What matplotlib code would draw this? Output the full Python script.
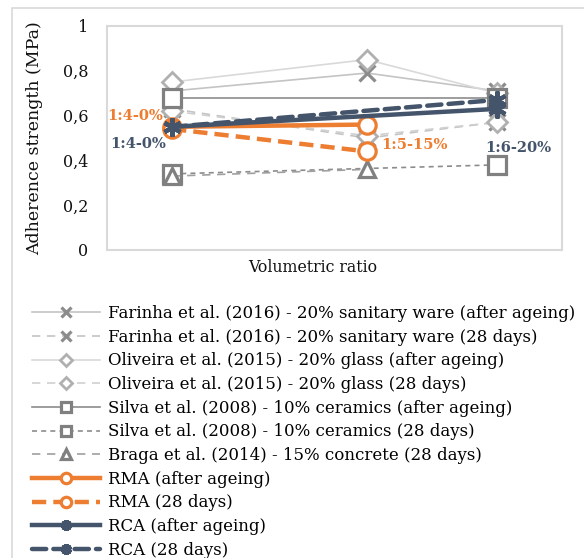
import numpy as np
import matplotlib
matplotlib.use("Agg")
import matplotlib.pyplot as plt
from matplotlib.patches import Rectangle
from matplotlib.ticker import FuncFormatter

plt.rcParams['font.family'] = ['DejaVu Serif']

# volumetric ratio 1:4, 1:5, 1:6 -> plotted as 1/n
ratios = [4, 5, 6]
nan = np.nan

farinha_aged = [0.71, 0.79, 0.71]
farinha_28 = [0.63, 0.50, 0.57]
oliveira_aged = [0.75, 0.85, 0.70]
oliveira_28 = [0.62, 0.51, 0.57]
silva_aged = [0.68, nan, 0.68]
silva_28 = [0.34, nan, 0.38]
braga_28 = [0.33, 0.36, nan]
rma_aged = [0.55, 0.56, nan]
rma_28 = [0.54, 0.44, nan]
rca_aged = [0.55, nan, 0.63]
rca_28 = [0.55, nan, 0.67]

labels = ['Farinha et al. (2016) - 20% sanitary ware (after ageing)',
          'Farinha et al. (2016) - 20% sanitary ware (28 days)',
          'Oliveira et al. (2015) - 20% glass (after ageing)',
          'Oliveira et al. (2015) - 20% glass (28 days)',
          'Silva et al. (2008) - 10% ceramics (after ageing)',
          'Silva et al. (2008) - 10% ceramics (28 days)',
          'Braga et al. (2014) - 15% concrete (28 days)',
          'RMA (after ageing)', 'RMA (28 days)',
          'RCA (after ageing)', 'RCA (28 days)']

orange = '#ED7D31'
navy = '#44546A'

styles = [
    (farinha_aged, dict(color='#c4c4c4', lw=1.2, marker='x', ms=11, mew=2.3, mec='#8c8c8c')),
    (farinha_28, dict(color='#c4c4c4', lw=1.2, dashes=(5, 4), marker='x', ms=11, mew=2.3, mec='#8c8c8c')),
    (oliveira_aged, dict(color='#d9d9d9', lw=1.2, marker='D', ms=10, mew=2, mfc='white', mec='#b0b0b0')),
    (oliveira_28, dict(color='#d0d0d0', lw=1.2, dashes=(5, 4), marker='D', ms=10, mew=2, mfc='white', mec='#b0b0b0')),
    (silva_aged, dict(color='#8c8c8c', lw=1.2, marker='s', ms=13, mew=2.3, mfc='white', mec='#808080')),
    (silva_28, dict(color='#8c8c8c', lw=1.2, dashes=(3, 2.5), marker='s', ms=13, mew=2.3, mfc='white', mec='#808080')),
    (braga_28, dict(color='#a0a0a0', lw=1.2, dashes=(5, 4), marker='^', ms=12, mew=2.3, mfc='white', mec='#808080')),
    (rma_aged, dict(color=orange, lw=3.2, marker='o', ms=12.5, mew=2.3, mfc='white', mec=orange)),
    (rma_28, dict(color=orange, lw=3.2, dashes=(3.2, 1.6), marker='o', ms=12.5, mew=2.3, mfc='white', mec=orange)),
    (rca_aged, dict(color=navy, lw=3.2, marker=(6, 2, 0), ms=13, mew=3, mec=navy)),
    (rca_28, dict(color=navy, lw=3.2, dashes=(3.2, 1.6), dash_capstyle='round', marker=(6, 2, 0), ms=13, mew=3, mec=navy)),
]

x_all = 1.0 / np.array(ratios)

fig = plt.figure(figsize=(5.84, 5.58), dpi=100)
ax = fig.add_axes([107/584, 1-250/558, (562-107)/584, (250-26)/558])

for (vals, st), lab in zip(styles, labels):
    v = np.array(vals, dtype=float)
    m = ~np.isnan(v)
    ax.plot(x_all[m], v[m], label=lab, **st)

ax.set_xlim(0.2667, 0.15)
ax.set_ylim(0, 1)
ax.set_yticks([0, 0.2, 0.4, 0.6, 0.8, 1])
ax.yaxis.set_major_formatter(FuncFormatter(lambda v, p: ('%g' % round(v, 1)).replace('.', ',')))
ax.set_xticks([])
ax.tick_params(axis='y', length=0, labelsize=11.5, pad=13.5, colors='#111111')
for s in ax.spines.values():
    s.set_color('#d9d9d9')
    s.set_linewidth(1.5)

fig.text(35/584, 1-138/558, 'Adherence strength (MPa)', rotation=90, ha='center', va='center',
         fontsize=12.5, color='#111111')
fig.text(313/584, 1-267/558, 'Volumetric ratio', ha='center', va='center', fontsize=11.3, color='#111111')

# data labels
ax.annotate('1:4-0%', (x_all[0], rma_aged[0]), xytext=(-37, 11), textcoords='offset pixels',
            ha='center', va='center', color=orange, fontweight='bold', fontsize=10.5)
ax.annotate('1:4-0%', (x_all[0], rca_aged[0]), xytext=(-34, -17), textcoords='offset pixels',
            ha='center', va='center', color=navy, fontweight='bold', fontsize=10.5)
ax.annotate('1:5-15%', (x_all[1], rma_28[1]), xytext=(47, 6), textcoords='offset pixels',
            ha='center', va='center', color=orange, fontweight='bold', fontsize=10.5)
ax.annotate('1:6-20%', (x_all[2], rca_aged[2]), xytext=(21, -39), textcoords='offset pixels',
            ha='center', va='center', color=navy, fontweight='bold', fontsize=10.5)

handles, labs = ax.get_legend_handles_labels()
fig.legend(handles, labs, loc='upper left', bbox_to_anchor=(32/584, 1-305/558), frameon=False,
           fontsize=12, handlelength=4.08, handletextpad=0.48, labelspacing=0.40,
           markerscale=0.6, borderaxespad=0, borderpad=0)

fig.patches.append(Rectangle((12/584, -0.1), 2, 1.1-8/558, transform=fig.transFigure,
                             fill=False, edgecolor='#d9d9d9', lw=1.2))

fig.savefig('out.png', dpi=100)
